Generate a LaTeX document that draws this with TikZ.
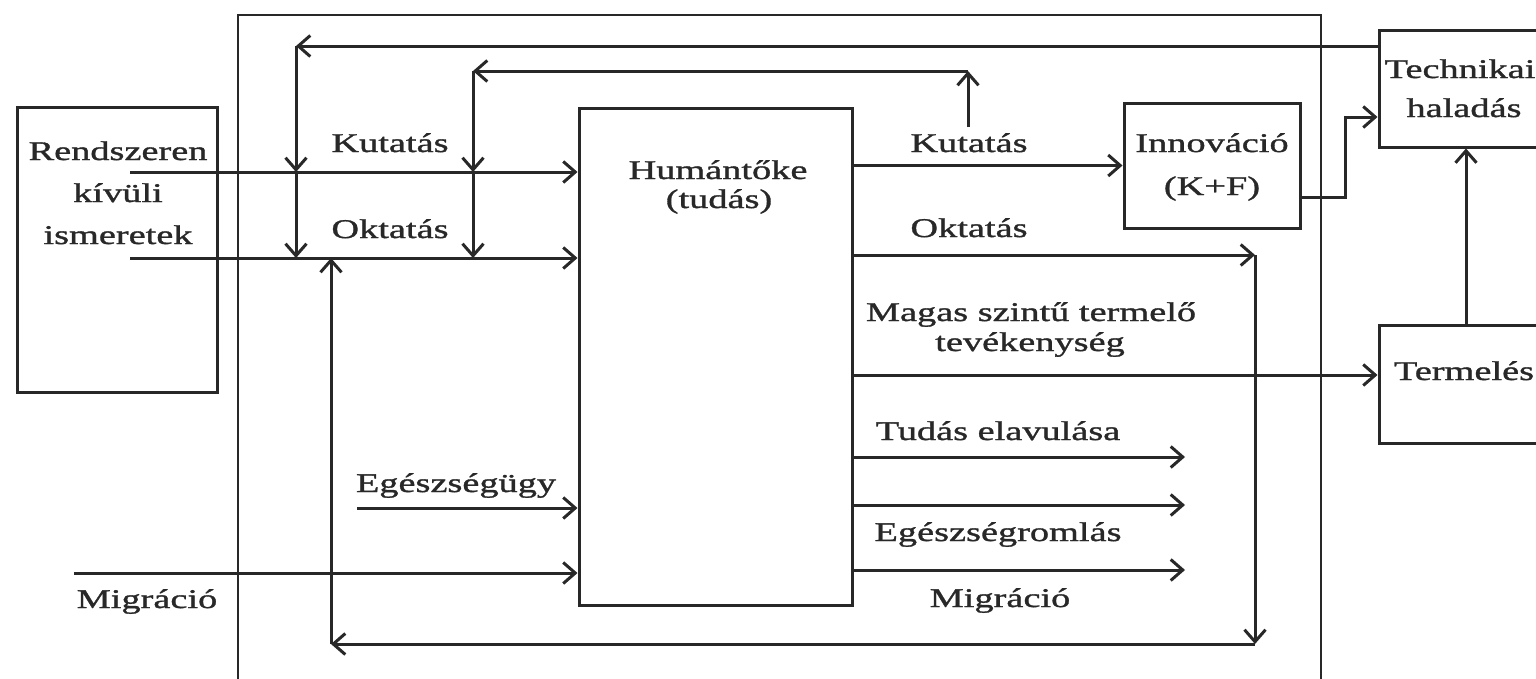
\documentclass[tikz,border=0pt]{standalone}
\usepackage{fontspec}
\setmainfont{Liberation Serif}[FakeStretch=1.42,FakeBold=1.2]
\usetikzlibrary{arrows.meta}
\definecolor{ink}{RGB}{40,40,40}
\begin{document}
\begin{tikzpicture}[x=1pt,y=-1pt,
  box/.style={draw=ink, line width=3pt, inner sep=0pt, minimum width=#1},
  lbl/.style={font=\fontsize{27}{32}\selectfont, text=ink, inner sep=0pt, anchor=base},
  arr/.style={draw=ink, line width=3pt, -{Straight Barb[length=12pt,width=21pt]}}]
\useasboundingbox (0,0) rectangle (1536,678);
\clip (0,0) rectangle (1536,678);
\fill[white] (0,0) rectangle (1536,678);

% outer frame (open at the bottom)
\draw[draw=ink, line width=2.5pt] (238,690) -- (238,15) -- (1321,15) -- (1321,690);

% boxes
\node[box=200pt, minimum height=285pt] (ext) at (117,249.5) {};
\node[box=273pt, minimum height=497pt] (hum) at (715.5,356.5) {};
\node[box=176pt, minimum height=125pt] (inno) at (1212,165.5) {};
\node[box=174pt, minimum height=117pt] (tech) at (1466,88.5) {};
\node[box=174pt, minimum height=118pt] (term) at (1466,384) {};

% texts
\node[lbl] (t1) at (118,160) {Rendszeren};
\node[lbl] (t2) at (118,202) {kívüli};
\node[lbl] (t3) at (118,244) {ismeretek};
\node[lbl] (kutL) at (390,152) {Kutatás};
\node[lbl] (oktL) at (390,238) {Oktatás};
\node[lbl] (h1) at (718,179) {Humántőke};
\node[lbl] (h2) at (719,208) {(tudás)};
\node[lbl] (kutR) at (969,152) {Kutatás};
\node[lbl] (oktR) at (969,237) {Oktatás};
\node[lbl] (i1t) at (1212,152) {Innováció};
\node[lbl] (i2t) at (1212,195) {(K+F)};
\node[lbl] (th1) at (1460,78) {Technikai};
\node[lbl] (th2) at (1464,117) {haladás};
\node[lbl] (mag1) at (1031,321) {Magas szintű termelő};
\node[lbl] (mag2) at (1030,351) {tevékenység};
\node[lbl] (termt) at (1464,380) {Termelés};
\node[lbl] (tud) at (998,440) {Tudás elavulása};
\node[lbl] (egr) at (998,541) {Egészségromlás};
\node[lbl] (migR) at (1000,607) {Migráció};
\node[lbl] (egu) at (456,492) {Egészségügy};
\node[lbl] (migL) at (147,608) {Migráció};

% coordinates
\coordinate (kuts) at (130,172);
\coordinate (okts) at (130,258);
\coordinate (egs) at (357,508);
\coordinate (mis) at (74,573);
\coordinate (c1) at (296,46);
\coordinate (c2up) at (968,127);
\coordinate (c2) at (968,71);
\coordinate (c2l) at (473,71);
\coordinate (o1) at (1255,255);
\coordinate (o2) at (1255,644);
\coordinate (o3) at (331,644);
\coordinate (ia) at (1345,197);
\coordinate (ib) at (1345,117);
\coordinate (m1) at (1379,375);
\coordinate (tu) at (1185,457);
\coordinate (eg) at (1185,505);
\coordinate (mg) at (1185,570);

% inputs
\draw[arr] (kuts) -- (kuts -| hum.west);
\draw[arr] (okts) -- (okts -| hum.west);
\draw[arr] (egs) -- (egs -| hum.west);
\draw[arr] (mis) -- (mis -| hum.west);

% feedback from technical progress
\draw[arr] (tech.west |- c1) -- (c1);
\draw[arr] (c1) -- (c1 |- kuts);
\draw[arr] (c1 |- kuts) -- (c1 |- okts);

% feedback from research
\draw[arr] (c2up) -- (c2);
\draw[arr] (c2) -- (c2l);
\draw[arr] (c2l) -- (c2l |- kuts);
\draw[arr] (c2l |- kuts) -- (c2l |- okts);

% education loop
\draw[arr] (hum.east |- o1) -- (o1);
\draw[arr] (o1) -- (o2);
\draw[arr] (o2) -- (o3);
\draw[arr] (o3) -- (o3 |- okts);

% outputs
\draw[arr] (hum.east |- inno.west) -- (inno.west);
\draw[arr] (inno.east |- ia) -- (ia) -- (ib) -- (tech.west |- ib);
\draw[arr] (term.north) -- (tech.south);
\draw[arr] (hum.east |- m1) -- (term.west |- m1);
\draw[arr] (hum.east |- tu) -- (tu);
\draw[arr] (hum.east |- eg) -- (eg);
\draw[arr] (hum.east |- mg) -- (mg);
\end{tikzpicture}
\end{document}
